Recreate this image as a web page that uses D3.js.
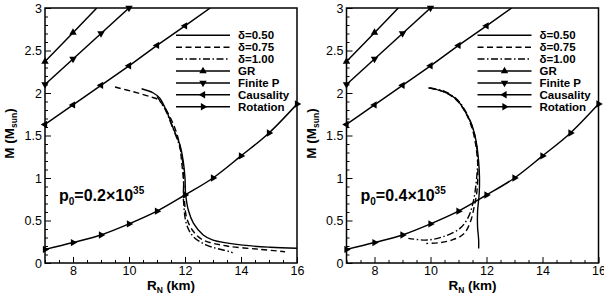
<!DOCTYPE html>
<html><head><meta charset="utf-8">
<script src="https://cdn.jsdelivr.net/npm/d3@7"></script>
<style>
html,body{margin:0;padding:0;background:#fff;}
svg text{font-family:"Liberation Sans",Arial,Helvetica,sans-serif;fill:#000;}
</style></head>
<body>
<svg id="chart" width="604" height="304"></svg>
<script>
// ---------- data ----------
const xTickLabels = [8, 10, 12, 14, 16];
const yTickLabels = [0, 0.5, 1, 1.5, 2, 2.5, 3];
const panelLabels = ["0.2", "0.4"];
const legendLabels = ["δ=0.50", "δ=0.75", "δ=1.00", "GR", "Finite P", "Causality", "Rotation"];

// limit lines (R_N in km, M in M_sun)
const grR = [7, 8, 8.85];
const grM = [2.37, 2.71, 3.0];
const finitePR = [7, 8, 9, 10];
const finitePM = [2.10, 2.40, 2.70, 3.00];
const causalityR = [7, 8, 9, 10, 11, 12, 12.9];
const causalityM = [1.63, 1.86, 2.09, 2.32, 2.56, 2.79, 3.0];
const rotationR = [7, 8, 9, 10, 11, 12, 13, 14, 15, 16];
const rotationM = [0.16, 0.24, 0.33, 0.46, 0.61, 0.80, 1.00, 1.26, 1.53, 1.87];

// M-R curves, p0 = 0.2e35
const d050_p02 = [[10.45,2.05],[10.87,2.0],[11.1,1.94],[11.35,1.78],[11.58,1.585],[11.82,1.39],[11.94,1.19],[12.0,1.0],[12.02,0.82],[12.12,0.62],[12.3,0.47],[12.65,0.33],[13.0,0.27],[14.08,0.21],[15.04,0.185],[16.0,0.173]];
const d075_p02 = [[9.5,2.07],[10.15,2.015],[10.75,1.957],[11.05,1.92],[11.29,1.82],[11.52,1.68],[11.7,1.53],[11.82,1.37],[11.88,1.19],[11.94,1.0],[11.98,0.74],[12.06,0.53],[12.3,0.37],[12.65,0.27],[13.5,0.2],[14.7,0.16],[15.57,0.133]];
const d100_p02 = [[11.0,1.96],[11.3,1.8],[11.55,1.6],[11.8,1.38],[11.92,1.18],[11.95,1.0],[11.95,0.72],[12.06,0.45],[12.3,0.31],[12.77,0.21],[13.6,0.133],[13.7,0.12]];
// M-R curves, p0 = 0.4e35
const d050_p04 = [[9.92,2.06],[10.46,2.015],[10.94,1.92],[11.24,1.78],[11.48,1.62],[11.63,1.43],[11.72,1.19],[11.75,1.0],[11.74,0.82],[11.68,0.6],[11.68,0.43],[11.72,0.27],[11.72,0.17]];
const d075_p04 = [[9.95,2.06],[10.5,2.01],[10.95,1.91],[11.25,1.77],[11.47,1.6],[11.6,1.42],[11.68,1.2],[11.69,1.05],[11.66,0.85],[11.56,0.66],[11.42,0.48],[11.18,0.34],[10.76,0.27],[10.34,0.24],[9.85,0.23]];
const d100_p04 = [[9.97,2.06],[10.5,2.02],[10.96,1.92],[11.26,1.78],[11.5,1.6],[11.63,1.42],[11.69,1.2],[11.67,1.09],[11.63,0.94],[11.54,0.74],[11.36,0.545],[11.06,0.41],[10.46,0.31],[9.87,0.27],[9.21,0.29]];

const panelCurves = [[d050_p02, d075_p02, d100_p02], [d050_p04, d075_p04, d100_p04]];

// ---------- layout ----------
const svg = d3.select("#chart");
const W = 252, H = 255, topY = 8;
const panelX = [45, 346.5];
const dashes = [null, "6,3.5", "7,2.5,1.5,2.5"];
const limits = [
  {R: grR, M: grM, rot: 0},
  {R: finitePR, M: finitePM, rot: 180},
  {R: causalityR, M: causalityM, rot: -90},
  {R: rotationR, M: rotationM, rot: 90}
];
const tri = d3.symbol().type(d3.symbolTriangle).size(24)();

panelX.forEach((px, pi) => {
  const g = svg.append("g").attr("transform", `translate(${px},${topY})`);
  const x = d3.scaleLinear().domain([7, 16]).range([0, W]);
  const y = d3.scaleLinear().domain([0, 3]).range([H, 0]);

  const clipId = "clip" + pi;
  g.append("clipPath").attr("id", clipId).append("rect").attr("width", W).attr("height", H);

  // axes (ticks inward)
  const xMinor = d3.range(7, 16.01, 0.5);
  g.append("g").attr("transform", `translate(0,${H})`)
    .call(d3.axisTop(x).tickValues(xMinor.filter(v => !xTickLabels.includes(v))).tickSize(3).tickFormat(""))
    .call(a => a.select(".domain").remove());
  g.append("g").attr("transform", `translate(0,${H})`)
    .call(d3.axisTop(x).tickValues(xTickLabels).tickSize(6).tickFormat(""))
    .call(a => a.select(".domain").remove());
  g.append("g").attr("transform", `translate(0,${H})`)
    .call(d3.axisBottom(x).tickValues(xTickLabels).tickSize(0).tickPadding(3).tickFormat(d3.format("d")))
    .call(a => a.select(".domain").remove())
    .selectAll("text").attr("font-size", "12.5px").attr("font-family", "Liberation Sans, Arial, sans-serif");

  const yMinor = d3.range(0, 3.001, 0.1).map(v => +v.toFixed(1));
  g.append("g")
    .call(d3.axisRight(y).tickValues(yMinor.filter(v => !yTickLabels.includes(v))).tickSize(3).tickFormat(""))
    .call(a => a.select(".domain").remove());
  g.append("g")
    .call(d3.axisRight(y).tickValues(yTickLabels).tickSize(6).tickFormat(""))
    .call(a => a.select(".domain").remove());
  g.append("g")
    .call(d3.axisLeft(y).tickValues(yTickLabels).tickSize(0).tickPadding(3).tickFormat(d => d3.format("")(d)))
    .call(a => a.select(".domain").remove())
    .selectAll("text").attr("font-size", "12.5px").attr("font-family", "Liberation Sans, Arial, sans-serif");
  g.selectAll(".tick line").attr("stroke", "#000").attr("stroke-width", 1);

  // M-R curves
  const curveLine = d3.line().x(d => x(d[0])).y(d => y(d[1])).curve(d3.curveCatmullRom.alpha(0.5));
  panelCurves[pi].forEach((pts, i) => {
    g.append("path").attr("d", curveLine(pts)).attr("fill", "none").attr("stroke", "#000")
      .attr("stroke-width", 1.4).attr("stroke-dasharray", dashes[i]).attr("clip-path", `url(#${clipId})`);
  });

  // limit lines
  limits.forEach((L, li) => {
    const pts = L.R.map((r, i) => [r, L.M[i]]);
    const ln = d3.line().x(d => x(d[0])).y(d => y(d[1]))
      .curve(li === 3 ? d3.curveMonotoneX : d3.curveLinear);
    g.append("path").attr("d", ln(pts)).attr("fill", "none").attr("stroke", "#000")
      .attr("stroke-width", 1.5).attr("clip-path", `url(#${clipId})`);
    g.selectAll(null).data(pts.filter(p => Number.isInteger(p[0]))).enter().append("path")
      .attr("d", tri).attr("fill", "#000")
      .attr("transform", p => `translate(${x(p[0])},${y(p[1])}) rotate(${L.rot})`);
  });

  // frame
  g.append("rect").attr("width", W).attr("height", H).attr("fill", "none")
    .attr("stroke", "#000").attr("stroke-width", 1.5);

  // legend
  const lx0 = 131, lx1 = 185, ltx = 193, ly0 = 35.3, ldy = 11.9;
  legendLabels.forEach((lab, i) => {
    const yy = ly0 + i * ldy - topY;
    g.append("line").attr("x1", lx0).attr("x2", lx1).attr("y1", yy).attr("y2", yy)
      .attr("stroke", "#000").attr("stroke-width", 1.5)
      .attr("stroke-dasharray", i < 3 ? dashes[i] : null);
    if (i >= 3) {
      g.append("path").attr("d", tri).attr("fill", "#000")
        .attr("transform", `translate(${(lx0 + lx1) / 2},${yy}) rotate(${limits[i - 3].rot})`);
    }
    g.append("text").attr("x", ltx).attr("y", yy).attr("dy", "0.36em")
      .attr("font-size", "11.5px").attr("font-weight", "bold").text(lab);
  });

  // annotation p0
  const ann = g.append("text").attr("x", 14).attr("y", 201 - topY)
    .attr("font-size", "16px").attr("font-weight", "bold");
  ann.append("tspan").text("p");
  ann.append("tspan").attr("font-size", "10px").attr("dy", 4).text("0");
  ann.append("tspan").attr("dy", -4).text("=" + panelLabels[pi] + "×10");
  ann.append("tspan").attr("font-size", "10px").attr("dy", -7).text("35");

  // axis titles
  const xt = g.append("text").attr("x", W / 2).attr("y", 290 - topY).attr("text-anchor", "middle")
    .attr("font-size", "13.5px").attr("font-weight", "bold");
  xt.append("tspan").text("R");
  xt.append("tspan").attr("font-size", "8.5px").attr("dy", 3).text("N");
  xt.append("tspan").attr("dy", -3).text(" (km)");

  const yt = g.append("text").attr("transform", `translate(${-31},${H / 2 - 2}) rotate(-90)`)
    .attr("text-anchor", "middle").attr("font-size", "13.5px").attr("font-weight", "bold");
  yt.append("tspan").text("M (M");
  yt.append("tspan").attr("font-size", "8.5px").attr("dy", 3).text("sun");
  yt.append("tspan").attr("dy", -3).text(")");
});
</script>
</body></html>
